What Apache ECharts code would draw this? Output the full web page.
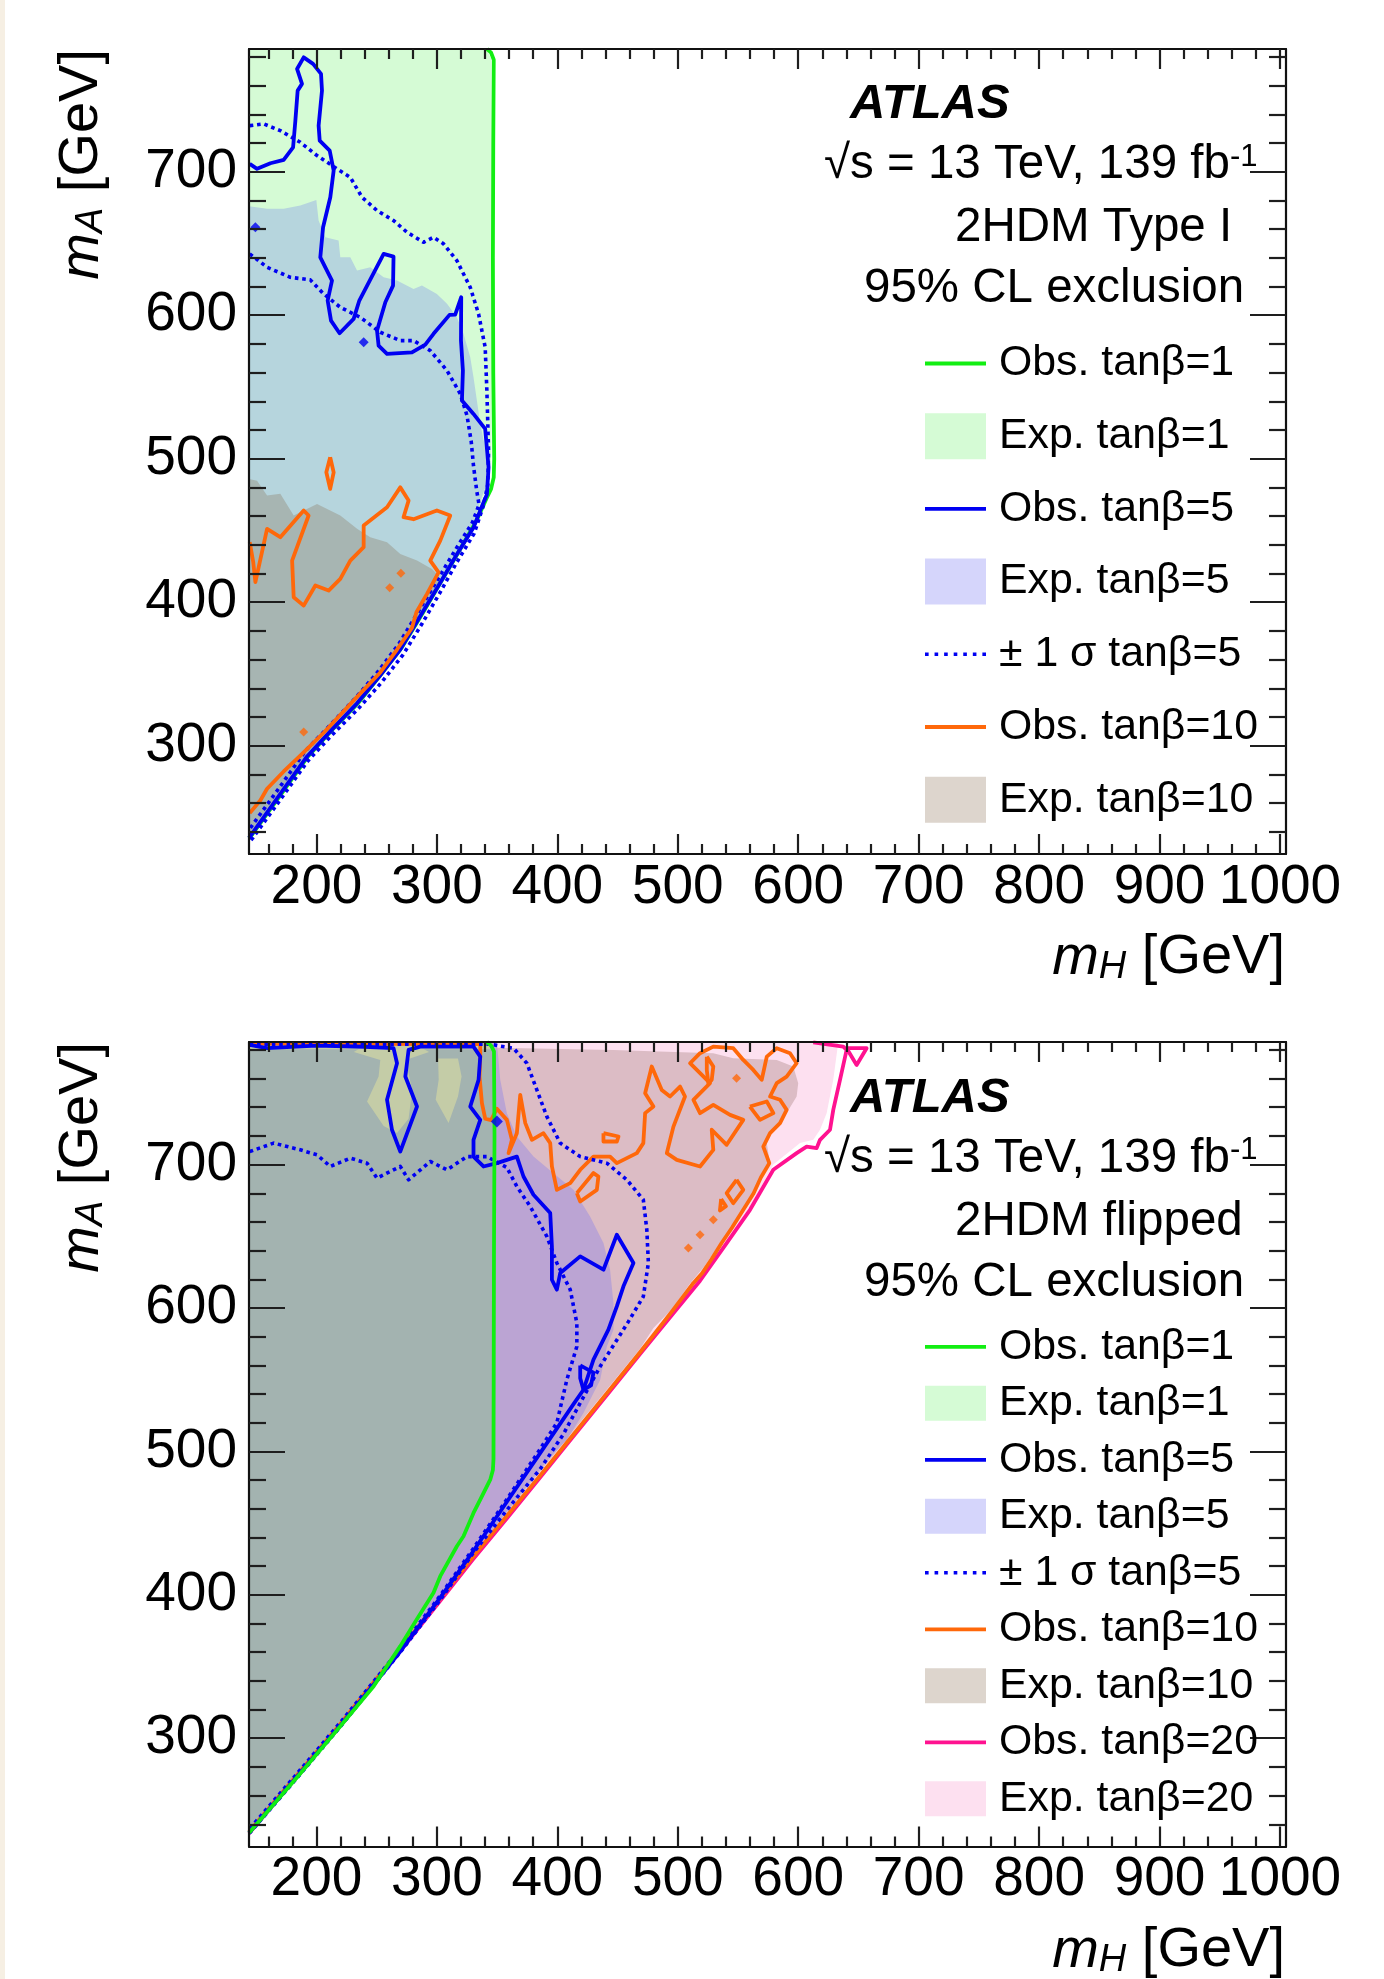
<!DOCTYPE html>
<html>
<head>
<meta charset="utf-8">
<title>2HDM exclusion contours</title>
<script src="https://cdn.jsdelivr.net/npm/echarts@6/dist/echarts.min.js"></script>
<style>
  html, body { margin: 0; padding: 0; background: #ffffff; }
  #chart { width: 1384px; height: 1979px; }
</style>
</head>
<body>
<div id="chart"></div>
<script>
// ---------------- axes ----------------
const X_RANGE = [144, 1005];
const Y_RANGE = [224.5, 785.5];
const X_MAJOR = [200, 300, 400, 500, 600, 700, 800, 900, 1000];
const Y_MAJOR = [300, 400, 500, 600, 700];
const X_MINOR = [];
for (let v = 160; v <= 1000; v += 20) if (v % 100) X_MINOR.push(v);
const Y_MINOR = [];
for (let v = 240; v <= 780; v += 20) if (v % 100) Y_MINOR.push(v);

// ---------------- 2HDM Type I : contours in (mH, mA) [GeV] ----------------
const typeI_exp1 = [[144,785.5],[341,785.5],[345,779],[345.5,700],[345.5,600],[345.5,520],[345,500],[343,484],[338,472],[331,455],[317,434],[303,414],[287,392],[270,368],[252,349],[234,330],[212,311],[192,293],[170,267],[146,239],[144,236.5]];
const typeI_exp5 = [[144,675.9],[159,674.1],[172.8,674.1],[186.6,676.4],[199.9,680.3],[201.8,665.9],[207.4,654.3],[218.4,652],[219.8,640.3],[228.1,640.3],[233.7,631.1],[244.7,633.4],[255.8,626.4],[266.9,624.1],[280.6,618.3],[287.6,620.6],[300,614.8],[308.4,607.9],[316.6,598.5],[322.1,587],[327.7,570.7],[330.4,556.8],[333.2,540.5],[336,524.3],[339.5,510],[341.5,495],[341,482],[336,470],[330,455],[317,434],[303,414],[287,392],[270,368],[252,349],[234,330],[212,311],[192,293],[170,267],[146,239],[144,237]];
const typeI_exp10 = [[144,485.9],[150.7,484.7],[159,474.3],[170,475.5],[181.1,460.4],[200.5,468.5],[219.8,460.4],[233.7,451.1],[244.7,445.3],[258.6,441.8],[269.6,433.6],[283.5,429],[295.9,423.2],[300,419.7],[303,414],[287,392],[270,368],[252,349],[234,330],[212,311],[192,293],[170,267],[146,239],[144,237]];

const typeI_obs1 = [[341.6,785.5],[345,783],[347.2,778],[346.8,720],[346.5,640],[346.8,560],[347.6,500],[347.2,487],[345,479],[341,472],[333,457],[318,435],[304,415],[288,392],[271,368.5],[253,349],[235,330],[213,311],[193,292.5],[171,266.5],[147,238.5],[144,235.5]];
const typeI_obs5 = [[144.6,705.4],[150.7,702],[161.8,705.9],[172.8,708.2],[180.6,717],[182.5,735.6],[184.4,756.5],[188,761.2],[183.9,771.6],[189.4,779.7],[197.2,775.1],[203.8,768.2],[204.6,756.5],[201.8,732.1],[202.7,721.7],[211,714.7],[214.3,700.8],[211.5,682.2],[205.5,661.3],[203.2,640.3],[212.9,624.1],[209.3,610.2],[212.1,596.2],[219.2,587.4],[230.9,597.4],[235.6,610.2],[255.8,642.7],[264,640.8],[263.6,620.6],[257.2,609],[250.3,589.3],[251.6,578.8],[258.6,573],[279.3,574.1],[290.4,579.5],[297.2,587],[310.5,600.2],[315.2,600.4],[320.2,612.5],[320,582.3],[321.6,561.4],[320.8,540.5],[330.4,531.2],[340.1,520.8],[342.9,494],[341.5,475],[336,464],[330.4,452],[316,432.5],[302.8,413.5],[286,390],[269.6,367],[252,348],[233.7,329.5],[212,310.5],[192.2,292.5],[170,266.5],[146,238],[144,235.8]];
const typeI_obs5_specks = [[239.2,581.1],[149.3,661.3]];
const typeI_sigmaOuter = [[144.6,732.1],[156.2,733.3],[170,728.6],[186.6,720.5],[200.5,711.2],[217.1,702],[228.1,696.1],[237.8,682.2],[250.3,672.9],[264.1,665.9],[275.2,657.8],[288.9,650.8],[297.2,654.3],[305.5,649.7],[316.6,638],[327.7,619.4],[334.6,600.9],[340.1,577.6],[341.5,547.5],[342.9,505.6],[342.3,482],[338.5,467],[331,448],[316,427],[302.8,407],[288,385.5],[272,363.5],[254,344],[235,326],[213,307.5],[193,289.5],[171,263.5],[147,235.5],[144,232.5]];
const typeI_sigmaInner = [[144.6,642.7],[159,633.4],[178.3,626.4],[194.9,624.6],[206,614.8],[219.8,605.5],[236.4,598.5],[253,588.1],[269.6,582.3],[280.6,582.3],[294.5,575.3],[308.4,561.4],[319.4,545.2],[325,530],[328.5,512],[330.4,495],[333,478],[335,468],[329.5,455.5],[315,436],[301.5,417],[285,394],[268.5,371],[251,351.5],[232.7,333.5],[211,314],[191,296.5],[169,270.5],[145,242.5],[144,241]];
const typeI_obs10 = [[144.6,441.8],[147.5,428],[149.3,414],[159,451.1],[170,445.3],[189.4,463.9],[193.5,460.4],[179.8,429],[181.1,403.4],[189.4,397.6],[199.1,411.6],[210.1,408.1],[219.8,416.2],[228.1,429],[239.2,438.3],[239.2,453.4],[258.6,466.1],[269.6,480],[276.5,470.8],[272.3,459.2],[280.6,457.8],[300,463.9],[311.1,460.4],[302.8,442.9],[294.5,429],[301.4,420.8],[291.8,405.8],[283,393],[279.3,382],[266.9,367],[253,351],[233.7,334],[206,309],[186.6,293],[172.8,282],[159,270],[153.5,262],[144.6,253]];
const typeI_obs10_island = [[211.4,501],[214.3,490.5],[211.4,479],[208.2,490.5]];
const typeI_obs10_specks = [[270.1,420.2],[260.8,410],[189.4,309.5]];

// ---------------- 2HDM flipped : contours in (mH, mA) [GeV] ----------------
const flipped_exp20 = [[144,785.5],[633.3,785.5],[629.1,759.1],[623.6,735.9],[618.1,724.3],[612.5,717.3],[601.5,715],[587.6,705.6],[579.3,700],[560,670],[540.6,646.5],[518.5,619.7],[496,596.8],[469,569],[441,540],[413,511],[386,483],[358,454],[330,425.5],[302.8,396.7],[269.6,361.5],[247.5,338.5],[219.8,309.5],[186.6,276.7],[145.2,235.5],[144,234.3]];
const flipped_exp10 = [[144,785.5],[347,785.5],[350,781.5],[446.6,780],[529.5,777.7],[546.1,774.2],[582.2,773],[595.9,768.4],[600,756.8],[598.7,747.5],[590.4,736],[579.3,724.3],[573.9,715],[576,703.5],[570,692],[560,674],[548,660],[536,646],[522,629],[510,617],[496,600],[479.8,586],[469,572],[441,543],[413,514],[386,486],[358,457],[330,428],[302.8,399],[269.6,363],[247.5,340],[219.8,311],[186.6,278],[145.2,237],[144,235.8]];
const flipped_exp5 = [[144,785.5],[349.8,785.5],[352.6,759.1],[358.1,735.9],[366.4,719.6],[380.2,705.6],[396.8,694],[413.4,682.4],[427.2,663.8],[438.3,645.3],[443.8,626.7],[446.6,603.5],[446.6,584.9],[441.1,573.2],[435.6,550],[421.7,526.8],[407.9,508.2],[394,496],[386,488],[358,458],[330,428],[302.8,398],[269.6,362],[247.5,339],[219.8,310],[186.6,277],[145.2,236],[144,235]];
const flipped_exp1 = [[144,785.5],[345.5,785.5],[346,700],[346,600],[345.8,495],[344,483],[336,467],[330.4,457.5],[322.1,441.5],[316.6,434],[302.8,412],[297.2,402.5],[283,384],[269.6,365],[247.5,337],[219.8,309],[186.6,276.5],[145.2,236.5],[144,235]];
// parts of the tanβ=1 band that the tanβ=5 expectation does not reach
const flipped_exp1_only = [
  [[144,785.5],[345,785.5],[345,780.5],[144,780.5]],
  [[231,778.5],[253,773],[251.6,761.4],[242,744],[255.8,727],[266.9,722],[276.5,732],[279.5,752.1],[274,773],[293.5,778.5],[286,782],[238,782]],
  [[301,774],[317.5,774],[320.5,761.4],[317.5,747.5],[309.7,729],[299,745.2],[301.5,759.1]]
];

const flipped_obs1 = [[341.5,785.5],[345,783],[347.4,779],[347.8,720],[347.4,640],[347.2,560],[347,495],[346.5,487],[344.3,480.3],[336,466.4],[330.4,457.1],[322.1,440.8],[316.6,433.9],[302.8,413],[297.2,401.4],[283,382.5],[269.6,364.2],[247.5,336.3],[219.8,308.4],[186.6,275.4],[145.2,235.2],[144,234]];
const flipped_obs5 = [[144.5,783.5],[159,781.2],[200,783],[240,782.2],[264,781.2],[266.9,770.7],[258.6,745.2],[262.7,724.3],[269.6,709.1],[283.5,740.5],[273.8,761.4],[276.5,780],[286.2,782.3],[330.4,782.3],[336,775.3],[334.6,759.1],[327.7,740.5],[336,731.2],[330.4,717.3],[330.4,705.6],[338.7,698.7],[349.8,701],[366.4,705.6],[371.9,691.7],[380.2,679],[394.1,666.2],[395.5,642.9],[395.5,619.7],[399.6,612.8],[402.4,624.4],[419,636],[438.3,626.7],[449.4,651.1],[463.2,631.4],[454.9,615.1],[449.4,601.1],[442.4,584.9],[430,564],[421.7,543],[413,532.5],[386,499.2],[358,464.7],[330,430.2],[302.8,398],[269.6,360.5],[247.5,337.5],[219.8,308.8],[186.6,276],[145.2,235.2],[144,234]];
const flipped_obs5_island = [[419,560],[430,555],[428,546],[421.7,543],[419,551]];
const flipped_obs5_specks = [[349.8,730]];
const flipped_sigmaInner = [[144.6,709.1],[164.5,715],[186.6,710.3],[200.5,706.8],[211.5,698.7],[228.1,704.5],[242,701],[250.3,690.6],[269.6,698.7],[276.5,689.4],[294.5,702.2],[308.4,696.4],[325,705.6],[341.5,705.6],[358.1,698],[366.4,684.7],[377.5,670.8],[391.3,649.9],[399.6,631.4],[410.7,612.8],[416.2,589.5],[416.2,573.2],[407.9,550],[399.6,519.9],[386,502],[358,466.5],[330,432],[302.8,399.5],[269.6,362.5],[247.5,339.5],[219.8,311],[186.6,278],[145.2,237.5],[144,236.3]];
const flipped_sigmaOuter = [[144.5,784],[345,784],[352.6,782.6],[363.6,781.2],[374.7,770.7],[383,752.1],[391.3,733.5],[402.4,715],[419,705.6],[441.1,701],[457.7,689.4],[471.4,675.5],[474.3,654.6],[475.6,631.4],[471.4,608],[459,590.5],[435.6,559.3],[419,533.8],[405,512],[386,488],[358,459],[330,429],[302.8,396.5],[269.6,360],[247.5,337],[219.8,308],[186.6,275],[145.2,234.5],[144,233.3]];
const flipped_obs10 = [[144.5,784.3],[336,784],[336,775],[335.4,761.4],[337.4,742.9],[340.1,732],[345,731],[349.8,739],[358.1,731.2],[362.3,717.3],[359.5,708],[366.4,721.9],[369.2,748.6],[373.4,728.9],[378.9,717.3],[388.5,721.9],[394.1,715],[395.5,698.7],[399.6,682.4],[410.7,687.1],[419,696.4],[430,705.6],[443.8,705.6],[449.4,701],[466,708],[471.4,715],[472.9,735.9],[479.8,740.5],[472.9,749.8],[478.4,768.4],[486.7,752.1],[493.6,747.5],[501.9,754.4],[506,747.5],[496.4,726.5],[490.9,708],[499.2,703.3],[518.5,698.7],[529.5,710.3],[528.2,724.3],[540.6,713.8],[554.4,731.2],[543.4,734.7],[529.5,741.7],[518.5,735.9],[513,745.2],[526.8,756.8],[518.5,763.8],[510.2,770.7],[518.5,777.7],[529.5,782.3],[546.1,781.2],[554.4,773],[562.7,766],[569.7,759.1],[573.9,775.3],[582.2,781.2],[593.2,777.7],[598.7,770.7],[590.4,761.4],[582.2,756.8],[576.6,747.5],[584.9,745.2],[590.4,738.2],[584.9,728.9],[576.6,721.9],[571,712.6],[576,701],[569,691],[563,680],[554.4,668.5],[545,656],[536.4,645.3],[528,634],[520,624],[513,617.5],[496,598.5],[469,569.5],[441,540.5],[413,511.5],[386,483.5],[358,455],[330,426.5],[302.8,397.5],[269.6,362],[247.5,339],[219.8,310],[186.6,277],[145.2,236],[144,234.8]];
const flipped_obs10_islands = [
  [[438.3,721.9],[450.8,719.6],[449.4,716.1],[438.3,716.1]],
  [[416.2,680.1],[430,694.1],[434.1,691.7],[432.8,682.4],[419,674.3]],
  [[524.1,775.3],[529.5,768.4],[528.2,759.1],[525.4,756.8],[524.1,766]],
  [[559.9,740.5],[573.9,744],[579.4,735.9],[568.3,731.2]],
  [[548.8,689.4],[554.4,682.4],[546.1,673.1],[540.6,680.1]],
  [[536,676],[540,671],[535,668]]
];
const flipped_obs10_specks = [[529.5,661.5],[518.5,651.1],[508.8,641.8],[548.8,760.3]];
const flipped_obs20 = [[612.5,785.3],[637.4,782.3],[640.2,780],[634.7,759.1],[629.1,738.2],[626.4,724.3],[618.1,717.3],[615.3,711.5],[607,712.6],[598.7,708],[579.3,696.4],[560,668.5],[540.6,645.3],[518.5,619],[496,596],[469,568.2],[441,539.2],[413,510.2],[386,482.2],[358,453.2],[330,424.7],[302.8,395.9],[269.6,360.7],[247.5,337.7],[219.8,308.7],[186.6,275.9],[145.2,234.7],[144,233.5]];
const flipped_obs20_island = [[640.2,781.2],[656.8,781.2],[648.5,769.5]];

// ---------------- styling ----------------
const FONT = '"Liberation Sans", Arial, Helvetica, sans-serif';
const C_GREEN = '#12ee12';
const C_BLUE = '#0000f2';
const C_ORANGE = '#ff680a';
const C_PINK = '#ff1290';
const BASE = { exp1: '#d5fbd5', exp5: '#d5d5fb', exp10: '#ddd5cd', exp20: '#fde0f0' };
const TICK_STYLE = { color: '#1e1e1e', width: 2.2 };
const FRAME = { show: true, onZero: false, lineStyle: { color: '#111111', width: 2.2 } };
const LINE_W = 3.8;
const DOT = [3.6, 3.8];
const LEGEND_FONT = 42.8;

// legend glyphs: a solid bar and a row of dots
const ICON_SOLID = 'path://M0,0H61V3.8H0Z';
const ICON_DOTTED = 'path://M0,0h3.6v3.6h-3.6z M9.5,0h3.6v3.6h-3.6z M19,0h3.6v3.6h-3.6z M28.5,0h3.6v3.6h-3.6z M38,0h3.6v3.6h-3.6z M47.5,0h3.6v3.6h-3.6z M57,0h3.6v3.6h-3.6z';

function xAxesFor(grid) {
  const base = { type: 'value', gridIndex: grid, min: X_RANGE[0], max: X_RANGE[1], z: 6, splitLine: { show: false } };
  const major = { show: true, inside: true, length: 20, customValues: X_MAJOR, lineStyle: TICK_STYLE };
  const minor = { show: true, inside: true, length: 10, customValues: X_MINOR, lineStyle: TICK_STYLE };
  return [
    Object.assign({}, base, { position: 'bottom', axisLine: FRAME, axisTick: major,
      axisLabel: { show: true, customValues: X_MAJOR, formatter: v => String(v), fontSize: 55, fontFamily: FONT, color: '#000', margin: 6 } }),
    Object.assign({}, base, { position: 'top', axisLine: FRAME, axisTick: major, axisLabel: { show: false } }),
    Object.assign({}, base, { position: 'bottom', axisLine: { show: false }, axisTick: minor, axisLabel: { show: false } }),
    Object.assign({}, base, { position: 'top', axisLine: { show: false }, axisTick: minor, axisLabel: { show: false } })
  ];
}
function yAxesFor(grid) {
  const base = { type: 'value', gridIndex: grid, min: Y_RANGE[0], max: Y_RANGE[1], z: 6, splitLine: { show: false } };
  const major = { show: true, inside: true, length: 36, customValues: Y_MAJOR, lineStyle: TICK_STYLE };
  const minor = { show: true, inside: true, length: 17, customValues: Y_MINOR, lineStyle: TICK_STYLE };
  return [
    Object.assign({}, base, { position: 'left', axisLine: FRAME, axisTick: major,
      axisLabel: { show: true, customValues: Y_MAJOR, formatter: v => String(v), fontSize: 55, fontFamily: FONT, color: '#000', margin: 12 } }),
    Object.assign({}, base, { position: 'right', axisLine: FRAME, axisTick: major, axisLabel: { show: false } }),
    Object.assign({}, base, { position: 'left', axisLine: { show: false }, axisTick: minor, axisLabel: { show: false } }),
    Object.assign({}, base, { position: 'right', axisLine: { show: false }, axisTick: minor, axisLabel: { show: false } })
  ];
}

// filled exclusion area, drawn as one polygon through the axis scales
function areaSeries(name, grid, points, fill, legendColor, z) {
  return {
    type: 'custom', name: name, xAxisIndex: grid * 4, yAxisIndex: grid * 4,
    coordinateSystem: 'cartesian2d', dimensions: ['x', 'y'], encode: { x: 0, y: 1 },
    data: points, z: z || 1, silent: true,
    itemStyle: { color: legendColor },
    renderItem: function (params, api) {
      if (params.dataIndex !== 0) return null;
      return { type: 'polygon', shape: { points: points.map(p => api.coord(p)) }, style: { fill: fill } };
    }
  };
}
// contour line; closed islands repeat their first point
function contourSeries(name, grid, points, color, dotted, closed) {
  return {
    type: 'line', name: name, xAxisIndex: grid * 4, yAxisIndex: grid * 4,
    data: closed ? points.concat([points[0]]) : points,
    symbol: 'none', showSymbol: false, silent: true, z: 3, animation: false,
    lineStyle: { color: color, width: dotted ? 3.6 : LINE_W, type: dotted ? DOT : 'solid', join: 'round' },
    itemStyle: { color: color }, emphasis: { disabled: true }
  };
}
function speckSeries(name, grid, points, color, size) {
  return {
    type: 'scatter', name: name, xAxisIndex: grid * 4, yAxisIndex: grid * 4,
    data: points, symbol: 'diamond', symbolSize: size, silent: true, z: 3,
    itemStyle: { color: color }
  };
}

const N_OBS1 = 'Obs. tanβ=1', N_EXP1 = 'Exp. tanβ=1', N_OBS5 = 'Obs. tanβ=5', N_EXP5 = 'Exp. tanβ=5';
const N_SIG5 = '± 1 σ tanβ=5', N_OBS10 = 'Obs. tanβ=10', N_EXP10 = 'Exp. tanβ=10';
const N_OBS20 = 'Obs. tanβ=20', N_EXP20 = 'Exp. tanβ=20';

const series = [
  // Type I (top)
  contourSeries(N_OBS1, 0, typeI_obs1, C_GREEN),
  contourSeries(N_SIG5, 0, typeI_sigmaOuter, C_BLUE, true),
  contourSeries(N_SIG5, 0, typeI_sigmaInner, C_BLUE, true),
  contourSeries(N_OBS5, 0, typeI_obs5, C_BLUE),
  speckSeries(N_OBS5, 0, typeI_obs5_specks, C_BLUE, 10),
  contourSeries(N_OBS10, 0, typeI_obs10, C_ORANGE),
  contourSeries(N_OBS10, 0, typeI_obs10_island, C_ORANGE, false, true),
  speckSeries(N_OBS10, 0, typeI_obs10_specks, C_ORANGE, 9),
  areaSeries(N_EXP1, 0, typeI_exp1, '#d5fbd5', BASE.exp1, 1),
  areaSeries(N_EXP5, 0, typeI_exp5, '#b6d5dd', BASE.exp5, 1),
  areaSeries(N_EXP10, 0, typeI_exp10, '#a7b5b2', BASE.exp10, 1),
  // flipped (bottom)
  areaSeries(N_EXP20, 1, flipped_exp20, '#fde0f0', BASE.exp20, 1),
  areaSeries(N_EXP10, 1, flipped_exp10, '#dcbcc5', BASE.exp10, 1),
  areaSeries(N_EXP5, 1, flipped_exp5, '#bba4d3', BASE.exp5, 1),
  areaSeries(N_EXP1, 1, flipped_exp1, '#a3b3b0', BASE.exp1, 1)
].concat(
  flipped_exp1_only.map(p => areaSeries(N_EXP1, 1, p, '#c4cca7', BASE.exp1, 1)),
  [
    contourSeries(N_OBS20, 1, flipped_obs20, C_PINK),
    contourSeries(N_OBS20, 1, flipped_obs20_island, C_PINK, false, true),
    contourSeries(N_OBS10, 1, flipped_obs10, C_ORANGE)
  ],
  flipped_obs10_islands.map(p => contourSeries(N_OBS10, 1, p, C_ORANGE, false, true)),
  [
    speckSeries(N_OBS10, 1, flipped_obs10_specks, C_ORANGE, 9),
    contourSeries(N_SIG5, 1, flipped_sigmaOuter, C_BLUE, true),
    contourSeries(N_SIG5, 1, flipped_sigmaInner, C_BLUE, true),
    contourSeries(N_OBS5, 1, flipped_obs5, C_BLUE),
    contourSeries(N_OBS5, 1, flipped_obs5_island, C_BLUE, false, true),
    speckSeries(N_OBS5, 1, flipped_obs5_specks, C_BLUE, 12),
    contourSeries(N_OBS1, 1, flipped_obs1, C_GREEN)
  ]
);

function legendFor(top, rowHeight, gap, names, textLineHeight) {
  const textStyle = { fontSize: LEGEND_FONT, fontFamily: FONT, color: '#000', padding: [0, 0, 0, 8] };
  if (textLineHeight) textStyle.lineHeight = textLineHeight;
  return {
    orient: 'vertical', left: 920, top: top, itemWidth: 61, itemHeight: rowHeight, itemGap: gap,
    align: 'left', selectedMode: false, z: 10,
    textStyle: textStyle,
    data: names.map(function (n) {
      if (n.indexOf('Exp.') === 0) return { name: n, icon: 'rect' };
      if (n === N_SIG5) return { name: n, icon: ICON_DOTTED };
      return { name: n, icon: ICON_SOLID };
    })
  };
}

// axis titles with italic symbol and subscript
function richTitle(sub) {
  return {
    text: '{m|m}{s|' + sub + '}{t| [GeV]}',
    rich: {
      m: { fontFamily: FONT, fontStyle: 'italic', fontSize: 56, lineHeight: 56, padding: [0, 0, 14, 0], verticalAlign: 'top', fill: '#000' },
      s: { fontFamily: FONT, fontStyle: 'italic', fontSize: 38, lineHeight: 38, verticalAlign: 'bottom', fill: '#000' },
      t: { fontFamily: FONT, fontSize: 56, lineHeight: 56, padding: [0, 0, 14, 0], verticalAlign: 'top', fill: '#000' }
    }
  };
}
function plainText(x, y, text, size, extra) {
  return {
    type: 'text', x: x, y: y, z: 20,
    style: Object.assign({ text: text, fontFamily: FONT, fontSize: size, fill: '#000', align: 'left', verticalAlign: 'middle' }, extra || {})
  };
}
function energyText(x, y) {
  return {
    type: 'text', x: x, y: y, z: 20,
    style: {
      text: '{a|√s = 13 TeV, 139 fb}{b|-1}', align: 'left', verticalAlign: 'top',
      rich: {
        a: { fontFamily: FONT, fontSize: 47.5, lineHeight: 47.5, padding: [8, 0, 0, 0], verticalAlign: 'bottom', fill: '#000' },
        b: { fontFamily: FONT, fontSize: 31, lineHeight: 31, verticalAlign: 'top', fill: '#000' }
      }
    }
  };
}
function panelLabels(dy, model) {
  return [
    plainText(850, 104.5 + dy, 'ATLAS', 49, { fontWeight: 'bold', fontStyle: 'italic' }),
    energyText(824, 141.5 + dy),
    plainText(955, 228 + dy, model, 47.5),
    plainText(864, 289 + dy, '95% CL exclusion', 47.5)
  ];
}

const option = {
  animation: false,
  backgroundColor: '#ffffff',
  grid: [
    { left: 249, top: 49, width: 1037, height: 805, containLabel: false, outerBoundsMode: 'none' },
    { left: 249, top: 1042, width: 1037, height: 804.5, containLabel: false, outerBoundsMode: 'none' }
  ],
  xAxis: xAxesFor(0).concat(xAxesFor(1)),
  yAxis: yAxesFor(0).concat(yAxesFor(1)),
  legend: [
    legendFor(335.5, 46, 26.7, [N_OBS1, N_EXP1, N_OBS5, N_EXP5, N_SIG5, N_OBS10, N_EXP10], 46),
    legendFor(1320.3, 35, 13.5, [N_OBS1, N_EXP1, N_OBS5, N_EXP5, N_SIG5, N_OBS10, N_EXP10, N_OBS20, N_EXP20], 42)
  ],
  graphic: [
    { type: 'rect', x: 0, y: 0, z: 0, shape: { width: 5, height: 1979 }, style: { fill: '#f6efe3' } },
    { type: 'text', x: 1285, y: 930, z: 20, style: Object.assign(richTitle('H'), { align: 'right', verticalAlign: 'top' }) },
    { type: 'text', x: 1285, y: 1923, z: 20, style: Object.assign(richTitle('H'), { align: 'right', verticalAlign: 'top' }) },
    { type: 'text', x: 54, y: 49, rotation: Math.PI / 2, z: 20, style: Object.assign(richTitle('A'), { align: 'right', verticalAlign: 'top' }) },
    { type: 'text', x: 54, y: 1042, rotation: Math.PI / 2, z: 20, style: Object.assign(richTitle('A'), { align: 'right', verticalAlign: 'top' }) }
  ].concat(panelLabels(0, '2HDM Type I'), panelLabels(993.7, '2HDM flipped')),
  series: series
};

const chart = echarts.init(document.getElementById('chart'), null, { renderer: 'canvas', width: 1384, height: 1979 });
chart.setOption(option);
</script>
</body>
</html>
